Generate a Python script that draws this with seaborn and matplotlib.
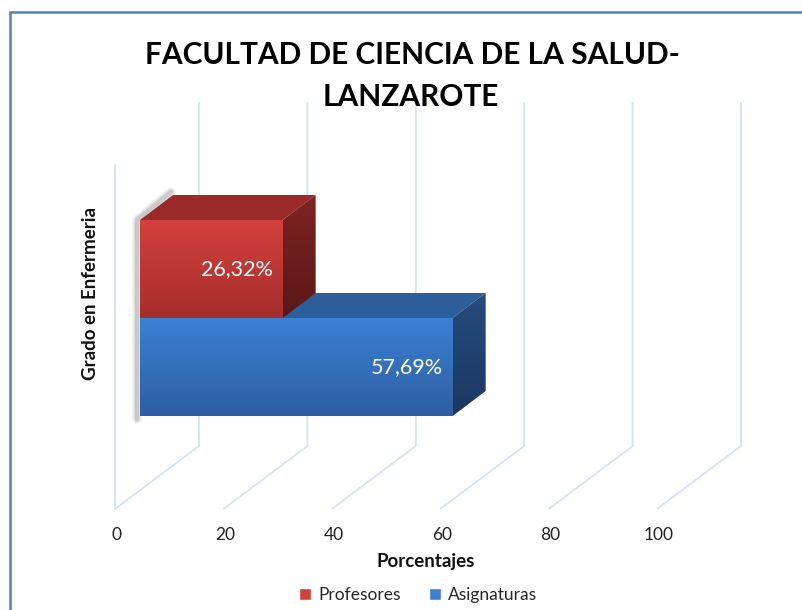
import numpy as np
import pandas as pd
import matplotlib
matplotlib.use("Agg")
import matplotlib.pyplot as plt
import seaborn as sns
from matplotlib.patches import Polygon, Rectangle
from matplotlib.colors import LinearSegmentedColormap

# ---------------- data ----------------
categoria = ["Grado en Enfermeria"]
series = ["Profesores", "Asignaturas"]
valores = [26.32, 57.69]
etiquetas = ["26,32%", "57,69%"]
ticks = [0, 20, 40, 60, 80, 100]
titulo = ["FACULTAD DE CIENCIA DE LA SALUD-", "LANZAROTE"]
xlabel = "Porcentajes"

# ---------------- style ----------------
sns.set_theme(style="white")
plt.rcParams["font.family"] = ["Lato", "DejaVu Sans"]

W, H = 802, 610
fig = plt.figure(figsize=(W / 100, H / 100), dpi=100)
ax = fig.add_axes([0, 0, 1, 1])

# colours: (front top, front bottom, top face, side top, side bottom)
col = {
    "Profesores": ("#D4413C", "#A52D2A", "#9A2B2A", "#7C2422", "#5A1817"),
    "Asignaturas": ("#3C80D3", "#2D5FA2", "#2C5E9A", "#254B7D", "#1B3860"),
}

df = pd.DataFrame({"grado": categoria * len(series), "serie": series, "valor": valores})
sns.barplot(data=df, x="valor", y="grado", hue="serie", orient="h", width=0.8,
            palette=[col[s][0] for s in series], saturation=1, ax=ax, legend=True)

# layout (pixel geometry of the pseudo-3D chart)
X0 = 140.0   # pixel of value 0 on bar front plane
PX = 5.42    # pixels per percent
Y0 = 318.0   # pixel of category centre
PY = 245.0   # pixels per category unit
BAR_D = (33, -25)      # bar depth in px
WALL_FRONT = (-25, 0)  # front wall offset from bar plane (x)
FLOOR_FRONT_Y, FLOOR_BACK_Y, TOP_BACK_Y, TOP_FRONT_Y = 509, 446, 102, 165
BACK_X = 59


def dx(p):
    return p / PX


def dy(p):
    return p / PY


def yd(p):
    return (p - Y0) / PY


def grad_fill(xy, c_top, c_bot, z):
    poly = Polygon(xy, closed=True, facecolor="none", edgecolor="none", zorder=z)
    ax.add_patch(poly)
    xs = [p[0] for p in xy]
    ys = [p[1] for p in xy]
    cmap = LinearSegmentedColormap.from_list("g", [c_top, c_bot])
    g = np.linspace(0, 1, 256).reshape(-1, 1)
    im = ax.imshow(g, cmap=cmap, extent=[min(xs), max(xs), max(ys), min(ys)],
                   aspect="auto", origin="upper", interpolation="bilinear", zorder=z)
    im.set_clip_path(poly)


# gridlines (front floor -> back floor -> back top)
gcol = "#D6E2F3"
for t in ticks:
    xs = [t + dx(WALL_FRONT[0]), t + dx(BACK_X), t + dx(BACK_X)]
    ys = [yd(FLOOR_FRONT_Y), yd(FLOOR_BACK_Y), yd(TOP_BACK_Y)]
    ax.plot(xs, ys, color=gcol, lw=1.3, zorder=1, solid_capstyle="butt")
    ax.text(t + dx(WALL_FRONT[0] + 2), yd(535), f"{t}", ha="center", va="center",
            fontsize=12.5, color="#222222")
ax.plot([dx(WALL_FRONT[0])] * 2, [yd(FLOOR_FRONT_Y), yd(TOP_FRONT_Y)], color=gcol, lw=1.3, zorder=1)

# bars: 3D faces
bars = [cont[0] for cont in ax.containers]
bdx, bdy = dx(BAR_D[0]), dy(BAR_D[1])
order = sorted(range(len(bars)), key=lambda i: -bars[i].get_y())  # lower bars first
all_top, all_bot, x_left = [], [], None
for rank, i in enumerate(order):
    p = bars[i]
    s = series[i]
    c = col[s]
    x0, x1 = p.get_x(), p.get_x() + p.get_width()
    yt, yb = min(p.get_y(), p.get_y() + p.get_height()), max(p.get_y(), p.get_y() + p.get_height())
    all_top.append(yt)
    all_bot.append(yb)
    x_left = x0
    z = 3 + rank
    p.set_visible(False)
    grad_fill([(x0, yt), (x1, yt), (x1, yb), (x0, yb)], c[0], c[1], z)
    ax.add_patch(Polygon([(x0, yt), (x1, yt), (x1 + bdx, yt + bdy), (x0 + bdx, yt + bdy)],
                         closed=True, facecolor=c[2], edgecolor="none", zorder=z))
    grad_fill([(x1, yt), (x1 + bdx, yt + bdy), (x1 + bdx, yb + bdy), (x1, yb)], c[3], c[4], z)
    ax.text(x1 - dx(10), (yt + yb) / 2, etiquetas[i], ha="right", va="center",
            fontsize=15.5, color="white", zorder=z + 1)

# soft shadow on the left side of the bar stack
ytop, ybot = min(all_top), max(all_bot)
for k, (lw, a) in enumerate([(7, 0.05), (5, 0.07), (3, 0.10)]):
    ax.plot([x_left + bdx - dx(2), x_left - dx(3), x_left - dx(3)],
            [ytop + bdy - dy(3), ytop, ybot + dy(3)],
            color="black", alpha=a, lw=lw, zorder=2, solid_capstyle="round")

# labels
ax.text(dx(426 - X0), yd(562), xlabel, ha="center", va="center", fontsize=13.5, fontweight="bold",
        color="#111111")
ax.text(dx(90 - X0), yd(293), categoria[0], ha="center", va="center", rotation=90,
        fontsize=13.5, fontweight="bold", color="#111111")
fig.text(412 / W, 1 - 55 / H, titulo[0], ha="center", va="center", fontsize=21.5, fontweight="bold",
         color="black")
fig.text(411 / W, 1 - 97 / H, titulo[1], ha="center", va="center", fontsize=21.5, fontweight="bold",
         color="black")

# limits and axes off
ax.set_xlim(-X0 / PX, (W - X0) / PX)
ax.set_ylim((H - Y0) / PY, -Y0 / PY)
ax.set_axis_off()

# legend
sns.move_legend(ax, "center", bbox_to_anchor=(418 / W, 1 - 595 / H), ncol=2, frameon=False,
                title=None, handlelength=0.7, handleheight=0.7, columnspacing=1.6,
                handletextpad=0.4, fontsize=12.5)

# outer frame
fig.add_artist(Rectangle((10 / W, -0.1), 1.2, 1.1 - 12 / H, transform=fig.transFigure,
                         fill=False, edgecolor="#4F81BD", lw=1.8))

fig.savefig("out.png", dpi=100)
